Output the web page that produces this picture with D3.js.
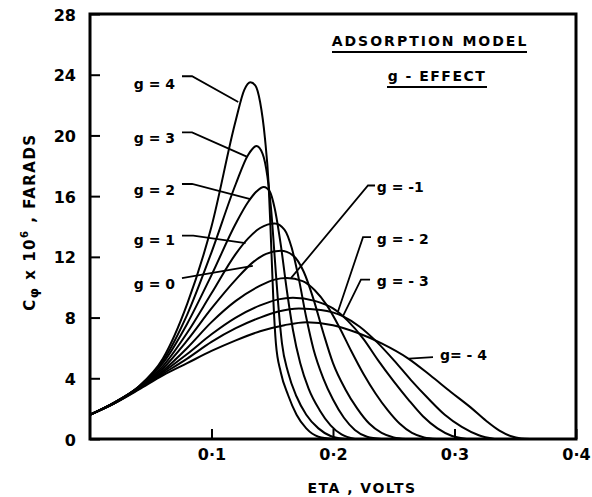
<!DOCTYPE html>
<html>
<head>
<meta charset="utf-8">
<script src="https://cdn.jsdelivr.net/npm/d3@7"></script>
<style>
  body { margin: 0; background: #fff; }
  text { font-family: "DejaVu Sans", sans-serif; font-weight: bold; fill: #000; }
</style>
</head>
<body>
<script>
// g values and the curves, [eta, C x 10^6]
var gValues = [4, 3, 2, 1, 0, -1, -2, -3, -4];

var curveG4 = [[0,1.6],[0.02,2.4],[0.04,3.45],[0.06,5.3],[0.08,8.9],[0.1,14.0],[0.12,21.0],[0.127,23.0],[0.132,23.5],[0.136,23.3],[0.14,22.2],[0.144,19.8],[0.147,16.8],[0.149,13],[0.151,9],[0.153,6.3],[0.157,4.4],[0.163,2.9],[0.17,1.6],[0.178,0.7],[0.188,0.15],[0.2,0]];
var curveG3 = [[0,1.6],[0.02,2.4],[0.04,3.45],[0.06,5.15],[0.08,8.2],[0.1,12.3],[0.12,16.8],[0.13,18.7],[0.137,19.3],[0.142,18.8],[0.146,17.3],[0.149,15.2],[0.152,12],[0.155,8.8],[0.158,6.3],[0.163,4.4],[0.17,2.8],[0.178,1.6],[0.188,0.7],[0.198,0.2],[0.21,0]];
var curveG2 = [[0,1.6],[0.02,2.4],[0.04,3.43],[0.06,5.0],[0.08,7.6],[0.1,10.8],[0.12,14.2],[0.13,15.6],[0.137,16.3],[0.143,16.6],[0.148,16.3],[0.152,15.2],[0.157,12.8],[0.162,9.8],[0.167,7.2],[0.173,5.0],[0.18,3.3],[0.189,1.9],[0.198,0.9],[0.207,0.3],[0.218,0]];
var curveG1 = [[0,1.6],[0.02,2.4],[0.04,3.4],[0.06,4.8],[0.08,7.0],[0.1,9.6],[0.12,12.2],[0.13,13.2],[0.14,13.9],[0.152,14.2],[0.16,13.8],[0.166,12.6],[0.172,10.5],[0.178,8.0],[0.184,5.9],[0.192,4.0],[0.2,2.6],[0.209,1.4],[0.218,0.6],[0.228,0.15],[0.24,0]];
var curveG0 = [[0,1.6],[0.02,2.4],[0.04,3.38],[0.06,4.65],[0.08,6.5],[0.1,8.6],[0.12,10.5],[0.135,11.7],[0.145,12.2],[0.157,12.4],[0.167,12.1],[0.176,11.0],[0.184,9.2],[0.192,7.0],[0.2,5.0],[0.21,3.3],[0.22,2.0],[0.23,1.0],[0.24,0.4],[0.25,0.1],[0.26,0]];
var curveGm1 = [[0,1.6],[0.02,2.35],[0.04,3.35],[0.06,4.5],[0.08,6.0],[0.1,7.7],[0.12,9.1],[0.14,10.1],[0.152,10.5],[0.162,10.6],[0.175,10.4],[0.185,9.8],[0.195,8.8],[0.205,7.4],[0.215,5.8],[0.225,4.3],[0.235,3.0],[0.245,1.9],[0.255,1.0],[0.265,0.4],[0.275,0.1],[0.285,0]];
var curveGm2 = [[0,1.6],[0.02,2.35],[0.04,3.3],[0.06,4.4],[0.08,5.6],[0.1,6.9],[0.12,8.0],[0.14,8.8],[0.155,9.2],[0.167,9.3],[0.185,9.1],[0.2,8.6],[0.212,7.8],[0.225,6.6],[0.237,5.2],[0.25,3.8],[0.262,2.6],[0.274,1.5],[0.286,0.7],[0.298,0.2],[0.31,0]];
var curveGm3 = [[0,1.6],[0.02,2.35],[0.04,3.3],[0.06,4.3],[0.08,5.3],[0.1,6.4],[0.12,7.3],[0.14,8.0],[0.155,8.4],[0.172,8.6],[0.19,8.5],[0.208,8.1],[0.222,7.4],[0.236,6.4],[0.25,5.2],[0.264,3.9],[0.278,2.7],[0.292,1.6],[0.306,0.8],[0.32,0.25],[0.333,0]];
var curveGm4 = [[0,1.6],[0.02,2.35],[0.04,3.25],[0.06,4.2],[0.08,5.0],[0.1,5.8],[0.12,6.5],[0.14,7.1],[0.16,7.5],[0.178,7.7],[0.2,7.5],[0.22,7.0],[0.24,6.3],[0.262,5.3],[0.28,4.2],[0.297,3.1],[0.313,2.1],[0.326,1.2],[0.337,0.55],[0.346,0.2],[0.355,0.03],[0.362,0]];

var curves = [curveG4, curveG3, curveG2, curveG1, curveG0, curveGm1, curveGm2, curveGm3, curveGm4];

var xTicks = [0.1, 0.2, 0.3, 0.4];
var xTickLabels = ["0·1", "0·2", "0·3", "0·4"];
var yTicks = [0, 4, 8, 12, 16, 20, 24, 28];

// label text and leader lines, in data units
var labelText = ["g = 4", "g = 3", "g = 2", "g = 1", "g = 0", "g = -1", "g = - 2", "g = - 3", "g= - 4"];
var labelAt = [[0.07,23.4],[0.07,19.8],[0.07,16.4],[0.07,13.1],[0.07,10.2],[0.236,16.6],[0.236,13.2],[0.236,10.4],[0.288,5.5]];
var leaders = [
  [[0.0757,23.9],[0.084,23.9],[0.122,22.2]],
  [[0.0757,20.2],[0.084,20.2],[0.129,18.6]],
  [[0.0757,16.8],[0.084,16.8],[0.132,15.8]],
  [[0.0757,13.4],[0.085,13.4],[0.128,12.9]],
  [[0.0757,10.6],[0.134,11.4]],
  [[0.2346,16.7],[0.2288,16.7],[0.1654,10.6]],
  [[0.2313,13.3],[0.2247,13.3],[0.2041,8.4]],
  [[0.2305,10.5],[0.2230,10.5],[0.2082,8.1]],
  [[0.2823,5.4],[0.2625,5.3]]
];

var width = 592, height = 497;
var x = d3.scaleLinear().domain([0, 0.4]).range([90, 576]);
var y = d3.scaleLinear().domain([0, 28]).range([439, 14]);

var svg = d3.select("body").append("svg")
  .attr("width", width)
  .attr("height", height);

// frame
svg.append("rect")
  .attr("x", x(0)).attr("y", y(28))
  .attr("width", x(0.4) - x(0)).attr("height", y(0) - y(28))
  .attr("fill", "none").attr("stroke", "#000").attr("stroke-width", 3);

// ticks inward
var yAxis = d3.axisLeft(y).tickValues(yTicks).tickSizeInner(-10).tickSizeOuter(0).tickPadding(14);
var gy = svg.append("g").attr("transform", "translate(" + x(0) + ",0)").call(yAxis);
gy.select(".domain").remove();
gy.selectAll("line").attr("stroke-width", 2);
gy.selectAll("text").style("font-size", "16px").attr("dy", "0.38em");

var xAxis = d3.axisBottom(x).tickValues(xTicks).tickSizeInner(-10).tickSizeOuter(0).tickPadding(10)
  .tickFormat(function(d, i) { return xTickLabels[i]; });
var gx = svg.append("g").attr("transform", "translate(0," + y(0) + ")").call(xAxis);
gx.select(".domain").remove();
gx.selectAll("line").attr("stroke-width", 2);
gx.selectAll("text").style("font-size", "16px");

// curves
var line = d3.line()
  .x(function(d) { return x(d[0]); })
  .y(function(d) { return y(d[1]); })
  .curve(d3.curveMonotoneX);

svg.append("g").selectAll("path")
  .data(curves)
  .enter().append("path")
  .attr("d", line)
  .attr("fill", "none")
  .attr("stroke", "#000")
  .attr("stroke-width", 2);

// leaders + labels
var leader = d3.line()
  .x(function(d) { return x(d[0]); })
  .y(function(d) { return y(d[1]); });

svg.append("g").selectAll("path")
  .data(leaders)
  .enter().append("path")
  .attr("d", leader)
  .attr("fill", "none")
  .attr("stroke", "#000")
  .attr("stroke-width", 1.8);

svg.append("g").selectAll("text")
  .data(gValues)
  .enter().append("text")
  .attr("x", function(d, i) { return x(labelAt[i][0]); })
  .attr("y", function(d, i) { return y(labelAt[i][1]); })
  .attr("dy", "0.35em")
  .attr("text-anchor", function(d) { return d >= 0 ? "end" : "start"; })
  .style("font-size", "14px")
  .text(function(d, i) { return labelText[i]; });

// title
svg.append("text").attr("x", 430).attr("y", 46).attr("text-anchor", "middle")
  .style("font-size", "14px").style("letter-spacing", "2px")
  .text("ADSORPTION  MODEL");
svg.append("line").attr("x1", 332).attr("x2", 527).attr("y1", 52).attr("y2", 52)
  .attr("stroke", "#000").attr("stroke-width", 2);
svg.append("text").attr("x", 437).attr("y", 81).attr("text-anchor", "middle")
  .style("font-size", "14px").style("letter-spacing", "1.5px")
  .text("g - EFFECT");
svg.append("line").attr("x1", 387).attr("x2", 487).attr("y1", 87).attr("y2", 87)
  .attr("stroke", "#000").attr("stroke-width", 2);

// axis titles
svg.append("text").attr("x", 362).attr("y", 493).attr("text-anchor", "middle")
  .style("font-size", "14px").style("letter-spacing", "1.5px")
  .text("ETA , VOLTS");

var yt = svg.append("text")
  .attr("transform", "translate(35,222) rotate(-90)")
  .attr("text-anchor", "middle")
  .style("font-size", "15px").style("letter-spacing", "1.5px");
yt.append("tspan").text("C");
yt.append("tspan").attr("font-size", "13px").attr("dy", "3").text("φ");
yt.append("tspan").attr("dy", "-3").text(" x 10");
yt.append("tspan").attr("font-size", "10px").attr("dy", "-7").text("6");
yt.append("tspan").attr("dy", "7").text(" ,  FARADS");
</script>
</body>
</html>
